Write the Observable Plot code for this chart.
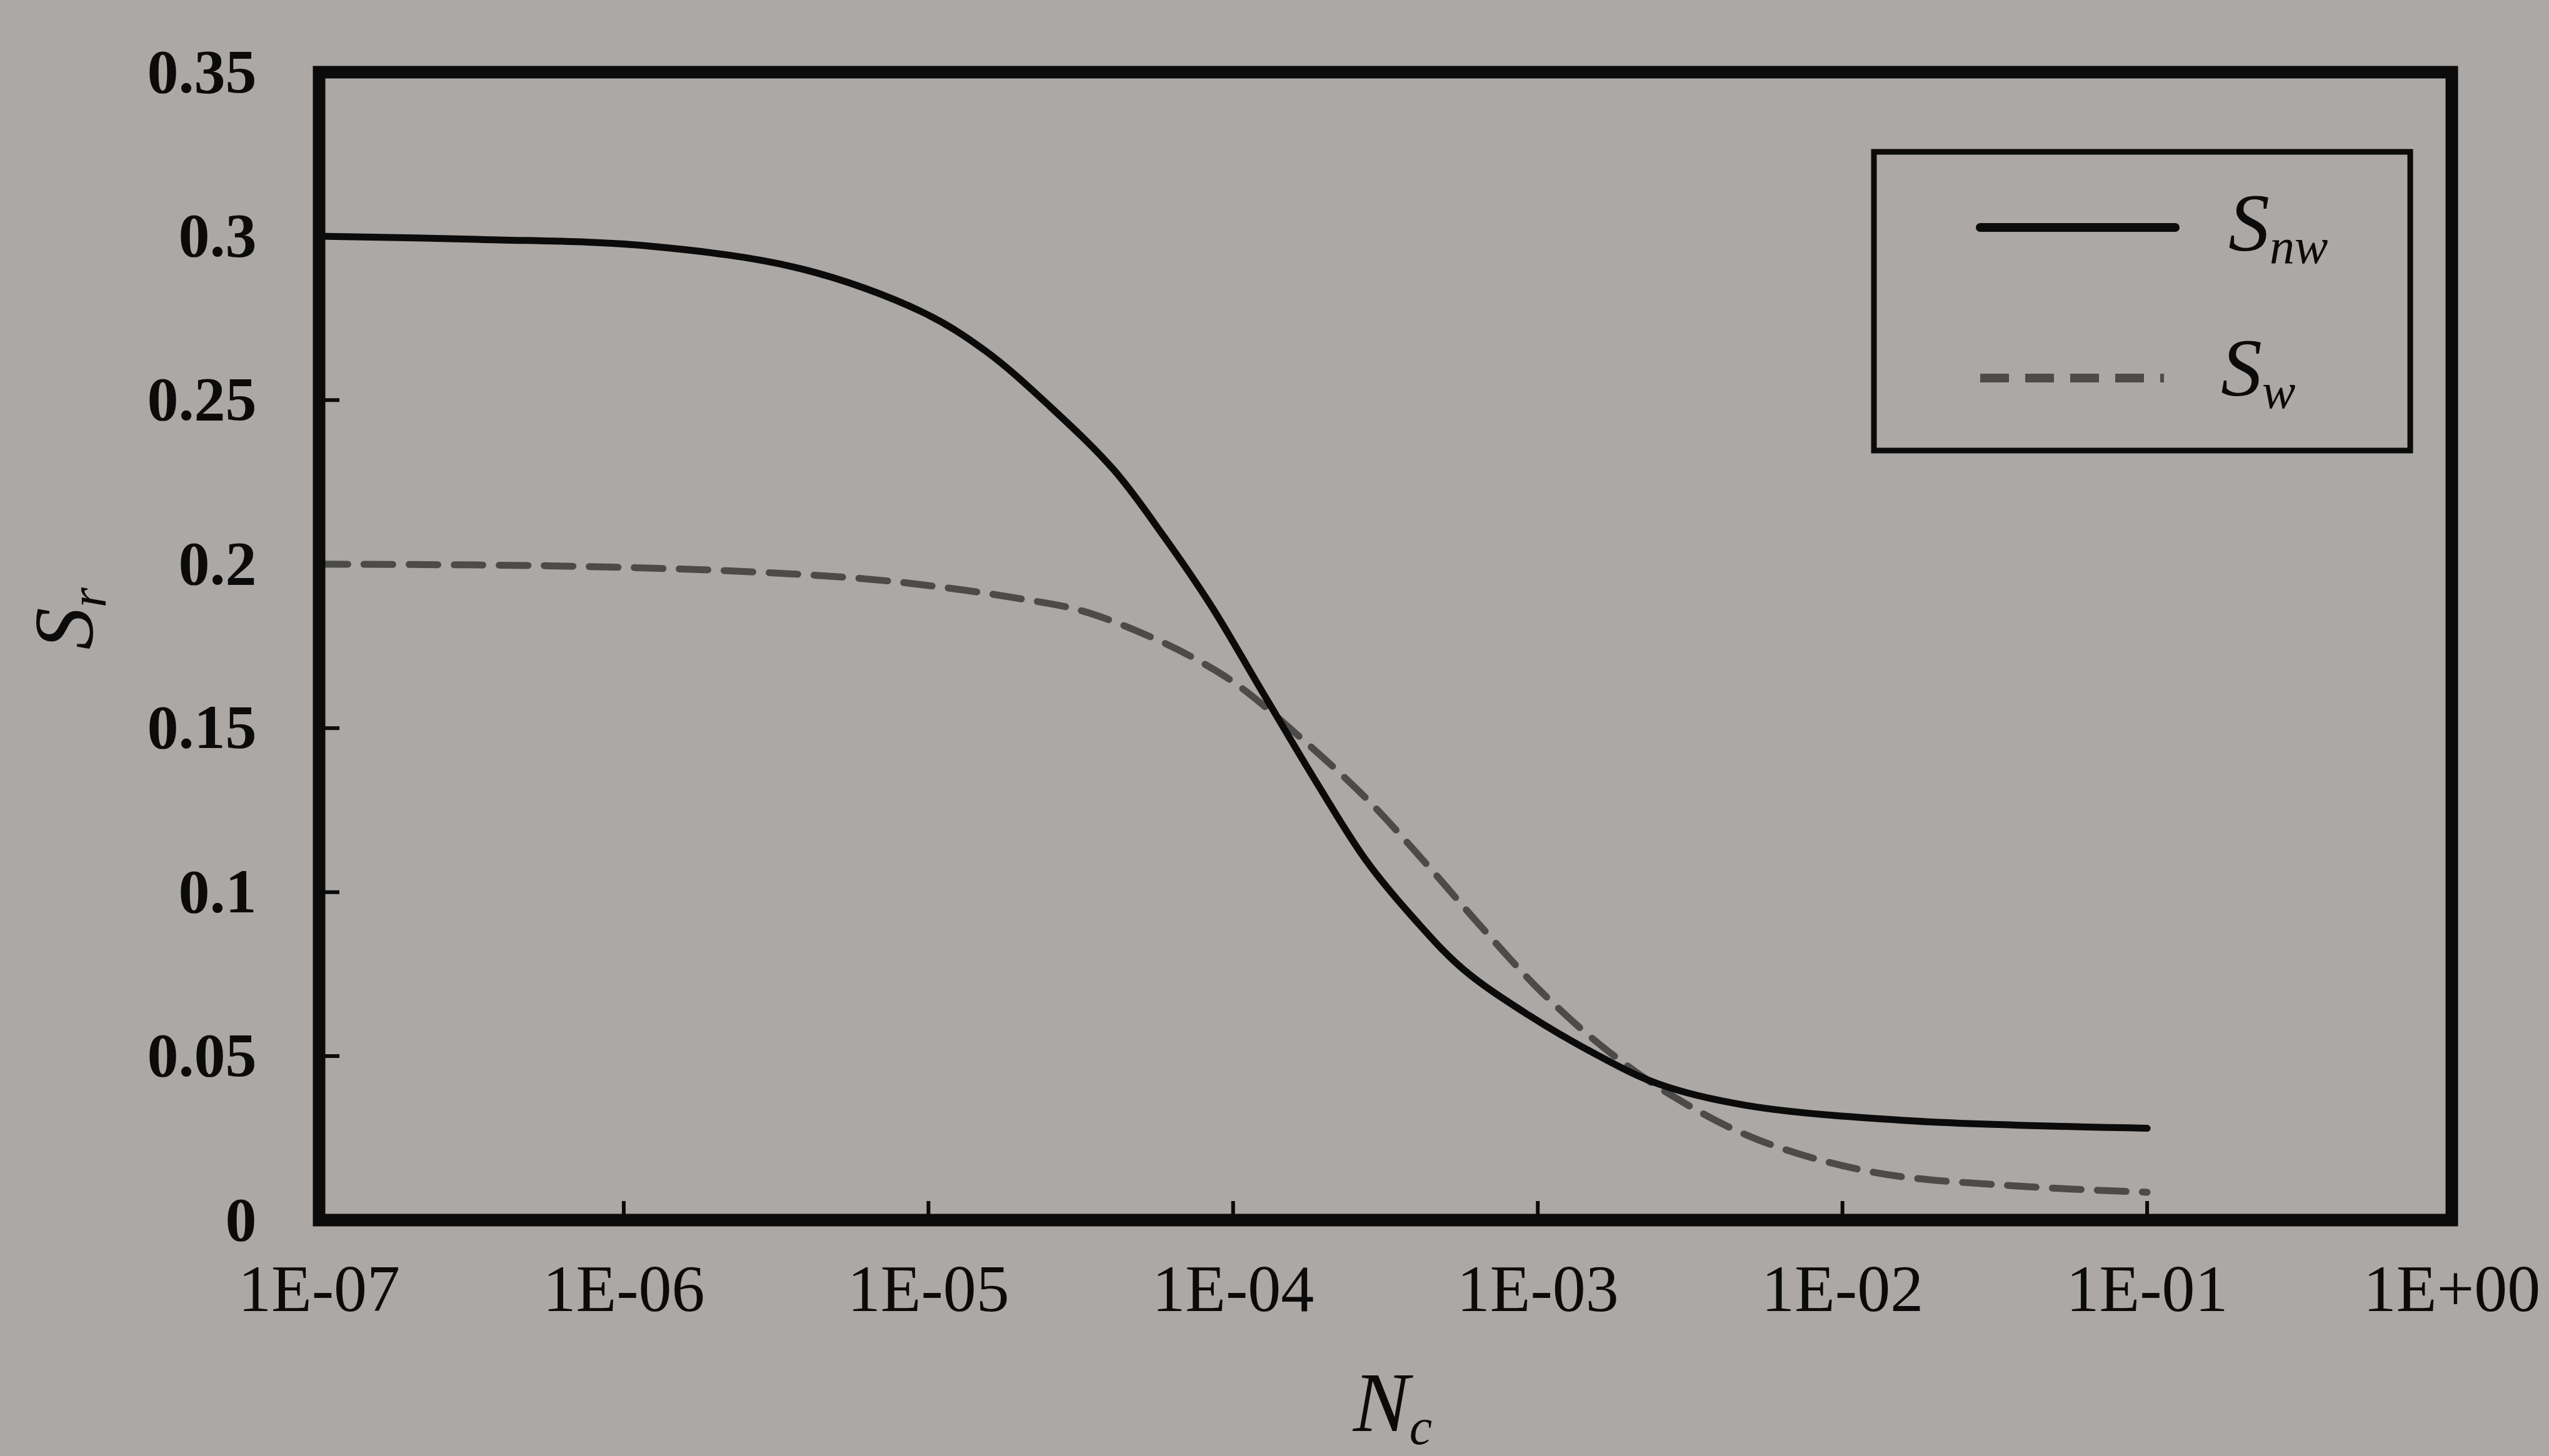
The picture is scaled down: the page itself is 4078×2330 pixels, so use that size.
<!DOCTYPE html>
<html>
<head>
<meta charset="utf-8">
<script src="https://cdn.jsdelivr.net/npm/d3@7"></script>
<script src="https://cdn.jsdelivr.net/npm/@observablehq/plot@0.6"></script>
<style>
  html, body { margin: 0; padding: 0; background: #aba8a5; }
  #chart svg { display: block; }
</style>
</head>
<body>
<div id="chart"></div>
<script>
// ---- data ----
const xTickValues = [1e-7, 1e-6, 1e-5, 1e-4, 1e-3, 1e-2, 1e-1, 1];
const xTickLabels = ["1E-07", "1E-06", "1E-05", "1E-04", "1E-03", "1E-02", "1E-01", "1E+00"];
const yTickValues = [0, 0.05, 0.1, 0.15, 0.2, 0.25, 0.3, 0.35];
const yTickLabels = ["0", "0.05", "0.1", "0.15", "0.2", "0.25", "0.3", "0.35"];

const seriesNames = ["Snw", "Sw"];

const snwNc = [1e-7, 3.39e-7, 1.21e-6, 3.84e-6, 9.48e-6, 1.54e-5, 2.51e-5, 4.08e-5, 5.92e-5, 8.51e-5,
               1.23e-4, 1.89e-4, 2.74e-4, 3.96e-4, 5.69e-4, 9.33e-4, 1.52e-3, 2.49e-3, 4.82e-3, 1.66e-2, 1e-1];
const snwS  = [0.300, 0.299, 0.297, 0.290, 0.277, 0.265, 0.248, 0.2285, 0.2085, 0.187,
               0.162, 0.133, 0.1095, 0.0915, 0.0765, 0.0625, 0.051, 0.0415, 0.035, 0.0303, 0.028];

const swNc = [1e-7, 5.66e-7, 2.17e-6, 5.86e-6, 1.06e-5, 1.96e-5, 3.21e-5, 5.61e-5, 7.69e-5, 1.04e-4,
              1.67e-4, 2.74e-4, 4.27e-4, 6.44e-4, 1.03e-3, 1.65e-3, 2.75e-3, 5.28e-3, 1.28e-2, 3.6e-2, 1e-1];
const swS  = [0.200, 0.1995, 0.198, 0.1957, 0.1932, 0.1896, 0.1857, 0.177, 0.1706, 0.163,
              0.147, 0.1285, 0.109, 0.090, 0.0695, 0.0525, 0.038, 0.0245, 0.0145, 0.0105, 0.0085];

// ---- build tables ----
const snwRows = snwNc.map((x, i) => ({Nc: x, S: snwS[i], series: seriesNames[0]}));
const swRows  = swNc.map((x, i) => ({Nc: x, S: swS[i], series: seriesNames[1]}));

// ---- layout ----
const W = 4078, H = 2330;
const mL = 510, mR = 156, mT = 115, mB = 378;
const plotW = W - mL - mR, plotH = H - mT - mB;
const ink = "#0b0b0b";
const dashInk = "#4d4b4a";
const bg = "#aba8a5";
const serif = "'Liberation Serif', 'Times New Roman', serif";
const lineW = 11;
const dashPattern = "46,26";

const xFmt = d => xTickLabels[Math.round(Math.log10(d)) + 7];
const yFmt = d => yTickLabels[Math.round(d / 0.05)];

const chart = Plot.plot({
  width: W,
  height: H,
  marginLeft: mL,
  marginRight: mR,
  marginTop: mT,
  marginBottom: mB,
  style: {background: bg, fontFamily: serif, color: ink},
  x: {type: "log", domain: [1e-7, 1], label: null},
  y: {domain: [0, 0.35], label: null},
  marks: [
    Plot.axisX({ticks: xTickValues, tickFormat: xFmt, tickSize: 0, tickPadding: 70,
                fontSize: 106, fontFamily: serif, fill: ink, label: null}),
    Plot.axisY({ticks: yTickValues, tickFormat: yFmt, tickSize: 0, tickPadding: 100,
                fontSize: 100, fontWeight: "bold", fontFamily: serif, fill: ink, label: null}),
    // inward tick marks
    Plot.ruleX(xTickValues.slice(1, -1), {x: d => d, insetTop: plotH - 30, stroke: ink, strokeWidth: 6}),
    Plot.ruleY(yTickValues.slice(1, -1), {y: d => d, insetRight: plotW - 33, stroke: ink, strokeWidth: 6}),
    // series
    Plot.line(swRows, {x: "Nc", y: "S", stroke: dashInk, strokeWidth: lineW,
                       strokeDasharray: dashPattern, curve: "catmull-rom"}),
    Plot.line(snwRows, {x: "Nc", y: "S", stroke: ink, strokeWidth: lineW, curve: "catmull-rom"}),
    Plot.frame({stroke: ink, strokeWidth: 20})
  ]
});

document.getElementById("chart").appendChild(chart);

// ---- axis titles and legend (text with subscripts) ----
const svg = d3.select(chart);
const g = svg.append("g").attr("fill", ink);

function subLabel(parent, main, sub, size, subSize, anchor) {
  const t = parent.append("text")
    .attr("text-anchor", anchor)
    .style("font-family", serif)
    .style("font-style", "italic")
    .style("font-size", size + "px");
  t.append("tspan").text(main);
  t.append("tspan").style("font-size", subSize + "px").attr("dy", "0.25em").text(sub);
  return t;
}

// y title  S_r
subLabel(g.append("g").attr("transform", "translate(148,990) rotate(-90)"), "S", "r", 135, 82, "middle");

// x title  N_c
subLabel(g.append("g").attr("transform", "translate(2228,2290)"), "N", "c", 135, 82, "middle");

// legend
const lg = g.append("g");
lg.append("rect")
  .attr("x", 2998).attr("y", 243).attr("width", 858).attr("height", 478)
  .attr("fill", "none").attr("stroke", ink).attr("stroke-width", 9);
lg.append("line")
  .attr("x1", 3168).attr("x2", 3480).attr("y1", 364).attr("y2", 364)
  .attr("stroke", ink).attr("stroke-width", 14).attr("stroke-linecap", "round");
lg.append("line")
  .attr("x1", 3168).attr("x2", 3462).attr("y1", 605).attr("y2", 605)
  .attr("stroke", dashInk).attr("stroke-width", 14).attr("stroke-dasharray", dashPattern);
subLabel(lg.append("g").attr("transform", "translate(3565,401)"), "S", "nw", 132, 80, "start");
subLabel(lg.append("g").attr("transform", "translate(3553,633)"), "S", "w", 132, 80, "start");
</script>
</body>
</html>
